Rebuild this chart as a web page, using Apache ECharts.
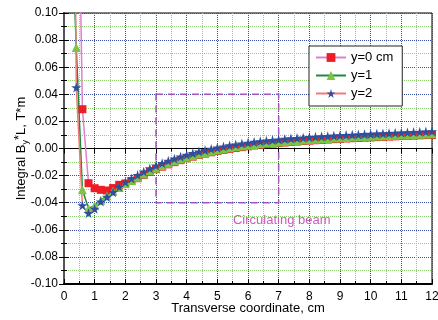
<!DOCTYPE html>
<html>
<head>
<meta charset="utf-8">
<script src="https://cdn.jsdelivr.net/npm/echarts@6/dist/echarts.min.js"></script>
<style>html,body{margin:0;padding:0;background:#fff}#c{width:438px;height:320px}</style>
</head>
<body>
<div id="c"></div>
<script>
const xs = [0.2,0.4,0.6,0.8,1.0,1.2,1.4,1.6,1.8,2.0,2.2,2.4,2.6,2.8,3.0,3.2,3.4,3.6,3.8,4.0,4.2,4.4,4.6,4.8,5.0,5.2,5.4,5.6,5.8,6.0,6.2,6.4,6.6,6.8,7.0,7.2,7.4,7.6,7.8,8.0,8.2,8.4,8.6,8.8,9.0,9.2,9.4,9.6,9.8,10.0,10.2,10.4,10.6,10.8,11.0,11.2,11.4,11.6,11.8,12.0];
const y0 = [0.9,0.31,0.029,-0.0256,-0.0293,-0.0305,-0.0310,-0.0292,-0.0268,-0.0258,-0.0240,-0.0219,-0.0196,-0.0173,-0.0153,-0.0134,-0.0117,-0.0101,-0.0086,-0.0072,-0.0060,-0.0048,-0.0038,-0.0028,-0.0019,-0.0011,-0.0003,0.0004,0.0010,0.0016,0.0022,0.0027,0.0032,0.0036,0.0040,0.0044,0.0048,0.0051,0.0055,0.0058,0.0061,0.0064,0.0066,0.0069,0.0071,0.0074,0.0076,0.0078,0.0080,0.0082,0.0084,0.0086,0.0088,0.0090,0.0092,0.0094,0.0095,0.0097,0.0099,0.0100];
const y1 = [0.20,0.0745,-0.0305,-0.0442,-0.0422,-0.0382,-0.0348,-0.0316,-0.0288,-0.0260,-0.0236,-0.0212,-0.0188,-0.0165,-0.0145,-0.0126,-0.0109,-0.0093,-0.0078,-0.0064,-0.0052,-0.0040,-0.0030,-0.0020,-0.0011,-0.0003,0.0005,0.0012,0.0018,0.0024,0.0030,0.0035,0.0040,0.0044,0.0048,0.0052,0.0056,0.0059,0.0063,0.0066,0.0069,0.0072,0.0074,0.0077,0.0079,0.0082,0.0084,0.0086,0.0088,0.0090,0.0092,0.0094,0.0096,0.0098,0.0100,0.0102,0.0103,0.0105,0.0107,0.0108];
const y2 = [0.65,0.045,-0.042,-0.0477,-0.0445,-0.0392,-0.0358,-0.0322,-0.0282,-0.0248,-0.0222,-0.0196,-0.0171,-0.0147,-0.0126,-0.0108,-0.0091,-0.0075,-0.0060,-0.0047,-0.0035,-0.0023,-0.0013,-0.0003,0.0006,0.0014,0.0022,0.0029,0.0036,0.0042,0.0048,0.0053,0.0058,0.0062,0.0066,0.0070,0.0074,0.0077,0.0080,0.0083,0.0086,0.0089,0.0091,0.0094,0.0096,0.0099,0.0101,0.0103,0.0105,0.0107,0.0109,0.0111,0.0113,0.0115,0.0117,0.0119,0.0121,0.0123,0.0125,0.0127];
const seriesNames = ['y=0 cm','y=1','y=2'];
const beamX = [3, 7];
const beamY = [-0.04, 0.04];
const beamLabel = 'Circulating beam';
const beamLabelPos = [7.1, -0.053];

const FONT = '"Liberation Sans", Arial, sans-serif';
const STAR = 'path://M50,0 L61,35 L98,35 L68,57 L79,91 L50,70 L21,91 L32,57 L2,35 L39,35 Z';
const pair = ys => xs.map((x, i) => [x, ys[i]]);

const chart = echarts.init(document.getElementById('c'), null, {renderer: 'canvas'});
const axisCommon = {
  axisLine: {show: true, onZero: false, lineStyle: {color: '#000', width: 2}},
  axisTick: {show: true, inside: true, length: 5, lineStyle: {color: '#000', width: 1}},
  minorTick: {show: true, splitNumber: 2, length: 3, lineStyle: {color: '#000', width: 1}},
};
chart.setOption({
  animation: false,
  textStyle: {fontFamily: FONT},
  grid: {left: 64, right: 6, top: 13, bottom: 36, show: true, borderColor: '#000', borderWidth: 1, containLabel: false, outerBoundsMode: 'none'},
  legend: {
    orient: 'vertical', left: 309, top: 46,
    backgroundColor: '#fff', borderColor: '#222', borderWidth: 1,
    padding: [5, 9, 6, 6], itemGap: 5, itemWidth: 30, itemHeight: 11,
    textStyle: {fontSize: 13, color: '#000', fontFamily: FONT},
    data: seriesNames
  },
  xAxis: [{
    type: 'value', min: 0, max: 12, interval: 1,
    ...axisCommon,
    axisLabel: {fontSize: 12, color: '#000', margin: 7},
    splitLine: {show: true, lineStyle: {color: '#3a4fa8', type: 'dotted', width: 1}},
    minorSplitLine: {show: true, lineStyle: {color: '#8fd070', type: 'dotted', width: 1}},
    name: 'Transverse coordinate, cm', nameLocation: 'middle', nameGap: 18, nameMoveOverlap: false,
    nameTextStyle: {fontSize: 13, color: '#000', fontFamily: FONT}
  }, {
    type: 'value', min: 0, max: 12, interval: 1, position: 'top',
    ...axisCommon, axisLine: {show: true, lineStyle: {color: '#000', width: 1}},
    axisLabel: {show: false}, splitLine: {show: false}
  }],
  yAxis: [{
    type: 'value', min: -0.1, max: 0.1, interval: 0.02,
    ...axisCommon,
    axisLabel: {fontSize: 12, color: '#000', margin: 6, formatter: v => v.toFixed(2)},
    splitLine: {show: true, lineStyle: {color: '#3a4fa8', type: 'dotted', width: 1}},
    minorSplitLine: {show: true, lineStyle: {color: '#8fd070', type: 'dotted', width: 1}},
    name: 'Integral B{sub|y}{sup|*}L, T*m', nameLocation: 'middle', nameGap: 34, nameMoveOverlap: false,
    nameTextStyle: {fontSize: 13, color: '#000', fontFamily: FONT,
      rich: {sub: {fontSize: 9, verticalAlign: 'bottom', padding: [6, 0, 0, 0]}, sup: {fontSize: 13, padding: [0, 0, 4, 0]}}}
  }, {
    type: 'value', min: -0.1, max: 0.1, interval: 0.02, position: 'right',
    ...axisCommon, axisLine: {show: true, lineStyle: {color: '#555', width: 2}},
    axisLabel: {show: false}, splitLine: {show: false}
  }],
  series: [
    {
      name: seriesNames[0], type: 'line', data: pair(y0), clip: true,
      symbol: 'rect', symbolSize: 8,
      itemStyle: {color: '#ee1c24'},
      lineStyle: {color: '#dd7fcf', width: 1.5},
      markArea: {
        silent: true,
        itemStyle: {color: 'rgba(0,0,0,0)', borderColor: '#a455b8', borderWidth: 1.5, borderType: [7, 5]},
        data: [[{coord: [beamX[0], beamY[1]]}, {coord: [beamX[1], beamY[0]]}]]
      },
      markPoint: {
        symbol: 'circle', symbolSize: 0, silent: true,
        label: {show: true, formatter: beamLabel, color: '#c65bbd', fontSize: 13, fontFamily: FONT, position: 'inside'},
        data: [{coord: beamLabelPos}]
      }
    },
    {
      name: seriesNames[1], type: 'line', data: pair(y1), clip: true,
      symbol: 'triangle', symbolSize: 9,
      itemStyle: {color: '#7cc443'},
      lineStyle: {color: '#1f8a3c', width: 1.5}
    },
    {
      name: seriesNames[2], type: 'line', data: pair(y2), clip: true,
      symbol: STAR, symbolSize: 10,
      itemStyle: {color: '#2d4f9e'},
      lineStyle: {color: '#f27a76', width: 1.5}
    }
  ]
});
</script>
</body>
</html>
